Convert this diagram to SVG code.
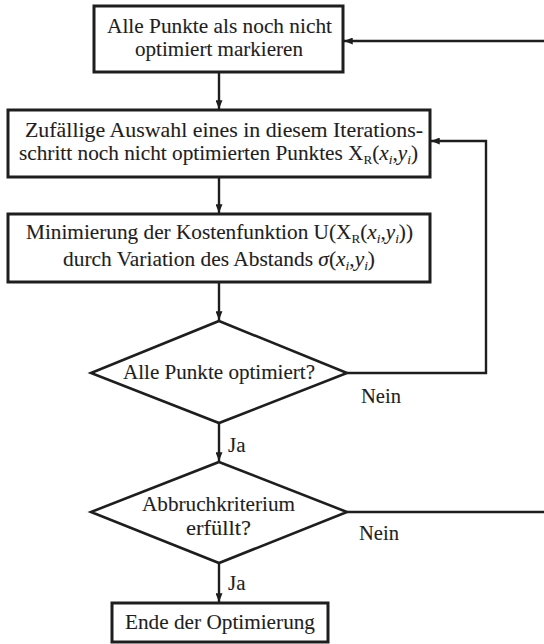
<svg xmlns="http://www.w3.org/2000/svg" width="544" height="644" viewBox="0 0 544 644">
  <defs>
    <marker id="arrow" viewBox="0 0 10 8" refX="10" refY="4" markerWidth="10" markerHeight="7" markerUnits="userSpaceOnUse" orient="auto">
      <path d="M0,0 L10,4 L0,8 Z" fill="#1e1e1e"/>
    </marker>
  </defs>
  <style>
    .box { fill: #ffffff; stroke: #1e1e1e; stroke-width: 3; }
    .dia { fill: #ffffff; stroke: #1e1e1e; stroke-width: 2.6; stroke-linejoin: miter; }
    .edge { fill: none; stroke: #1e1e1e; stroke-width: 2.4; }
    text { font-family: "Liberation Serif", "Times New Roman", serif; font-size: 21px; fill: #1e1e1e; stroke: #1e1e1e; stroke-width: 0.1; }
    .it { font-style: italic; }
    .sub { font-size: 13px; }
  </style>
  <rect width="544" height="644" fill="#ffffff"/>

  <!-- connectors -->
  <g id="connectors">
    <line class="edge" x1="219" y1="72" x2="219" y2="109" marker-end="url(#arrow)"/>
    <line class="edge" x1="219" y1="177" x2="219" y2="213" marker-end="url(#arrow)"/>
    <line class="edge" x1="219" y1="282" x2="219" y2="320" marker-end="url(#arrow)"/>
    <polyline class="edge" points="347,373 486,373 486,141 431,141" marker-end="url(#arrow)"/>
    <line class="edge" x1="219" y1="423" x2="219" y2="461" marker-end="url(#arrow)"/>
    <line class="edge" x1="347" y1="512" x2="546" y2="512"/>
    <line class="edge" x1="546" y1="41" x2="344" y2="41" marker-end="url(#arrow)"/>
    <line class="edge" x1="219" y1="563" x2="219" y2="602" marker-end="url(#arrow)"/>
  </g>

  <g id="mark-all">
    <rect class="box" x="94" y="6" width="249" height="66"/>
    <text x="107" y="33" textLength="225" lengthAdjust="spacingAndGlyphs">Alle Punkte als noch nicht</text>
    <text x="135" y="56" textLength="168" lengthAdjust="spacingAndGlyphs">optimiert markieren</text>
  </g>

  <g id="pick-point">
    <rect class="box" x="8" y="110" width="422" height="67"/>
    <text x="25" y="137" textLength="398" lengthAdjust="spacingAndGlyphs">Zufällige Auswahl eines in diesem Iterations-</text>
    <text x="19" y="160" textLength="399" lengthAdjust="spacingAndGlyphs">schritt noch nicht optimierten Punktes X<tspan class="sub" dy="4">R</tspan><tspan dy="-4">(</tspan><tspan class="it">x</tspan><tspan class="it sub" dy="4">i</tspan><tspan dy="-4">,</tspan><tspan class="it">y</tspan><tspan class="it sub" dy="4">i</tspan><tspan dy="-4">)</tspan></text>
  </g>

  <g id="minimise">
    <rect class="box" x="8" y="214" width="422" height="68"/>
    <text x="26" y="239" textLength="387" lengthAdjust="spacingAndGlyphs">Minimierung der Kostenfunktion U(X<tspan class="sub" dy="4">R</tspan><tspan dy="-4">(</tspan><tspan class="it">x</tspan><tspan class="it sub" dy="4">i</tspan><tspan dy="-4">,</tspan><tspan class="it">y</tspan><tspan class="it sub" dy="4">i</tspan><tspan dy="-4">))</tspan></text>
    <text x="63" y="266" textLength="312" lengthAdjust="spacingAndGlyphs">durch Variation des Abstands <tspan class="it">σ</tspan>(<tspan class="it">x</tspan><tspan class="it sub" dy="4">i</tspan><tspan dy="-4">,</tspan><tspan class="it">y</tspan><tspan class="it sub" dy="4">i</tspan><tspan dy="-4">)</tspan></text>
  </g>

  <g id="all-optimised">
    <polygon class="dia" points="219,321 347,373 219,423 91,373"/>
    <text x="123" y="379" textLength="192" lengthAdjust="spacingAndGlyphs">Alle Punkte optimiert?</text>
    <text x="361" y="403" textLength="40" lengthAdjust="spacingAndGlyphs">Nein</text>
    <text x="228" y="452">Ja</text>
  </g>

  <g id="stop-criterion">
    <polygon class="dia" points="219,462 347,512 219,563 91,512"/>
    <text x="142" y="511" textLength="153" lengthAdjust="spacingAndGlyphs">Abbruchkriterium</text>
    <text x="186" y="535" textLength="65" lengthAdjust="spacingAndGlyphs">erfüllt?</text>
    <text x="359" y="540" textLength="40" lengthAdjust="spacingAndGlyphs">Nein</text>
    <text x="228" y="590">Ja</text>
  </g>

  <g id="end">
    <rect class="box" x="112" y="603" width="216" height="39"/>
    <text x="125" y="629" textLength="190" lengthAdjust="spacingAndGlyphs">Ende der Optimierung</text>
  </g>
</svg>
